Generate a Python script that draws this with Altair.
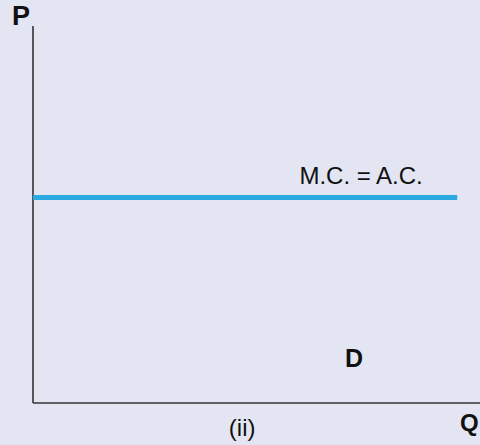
import altair as alt
import pandas as pd

# Axis frame (data units): Q runs 0..10 along the x-axis, P runs 0..10 up the y-axis
q_max = 10.0
p_max = 10.0

# Constant marginal cost = average cost line
mc_level = [5.45]
mc_q_end = [9.49]

# Labels: text, Q position, P position, weight, font size
label_text = ["P", "Q", "(ii)", "D", "M.C. = A.C."]
label_q = [-0.27, 9.76, 4.68, 7.18, 7.34]
label_p = [10.24, -0.56, -0.69, 1.17, 5.99]
label_bold = [True, True, False, True, False]
label_size = [27, 24, 24, 25, 24]

BG = "#e3e6f2"
AXIS = "#333333"
BLUE = "#29abe2"

xs = alt.Scale(domain=[0, q_max])
ys = alt.Scale(domain=[0, p_max])

axes_df = pd.DataFrame({
    "q": [0, 0], "p": [0, 0],
    "q2": [0, q_max + 0.1], "p2": [p_max, 0],
})
axes = alt.Chart(axes_df).mark_rule(color=AXIS, strokeWidth=1.6).encode(
    x=alt.X("q:Q", scale=xs, axis=None),
    y=alt.Y("p:Q", scale=ys, axis=None),
    x2="q2:Q",
    y2="p2:Q",
)

mc_df = pd.DataFrame({"q": [0.0], "q2": mc_q_end, "p": mc_level})
mc_line = alt.Chart(mc_df).mark_rule(color=BLUE, strokeWidth=5).encode(
    x=alt.X("q:Q", scale=xs, axis=None),
    x2="q2:Q",
    y=alt.Y("p:Q", scale=ys, axis=None),
)

lab_df = pd.DataFrame({
    "t": label_text, "q": label_q, "p": label_p,
    "b": label_bold, "s": label_size,
})
base = alt.Chart(lab_df).encode(
    x=alt.X("q:Q", scale=xs, axis=None),
    y=alt.Y("p:Q", scale=ys, axis=None),
    text="t:N",
    size=alt.Size("s:Q", scale=None, legend=None),
)
bold_labels = base.transform_filter("datum.b").mark_text(
    font="Liberation Sans", fontWeight="bold", color="#111111",
    align="center", baseline="middle",
)
plain_labels = base.transform_filter("!datum.b").mark_text(
    font="Liberation Sans", color="#111111",
    align="center", baseline="middle",
)

chart = (axes + mc_line + bold_labels + plain_labels).properties(
    width=447,
    height=377,
    background=BG,
    padding={"left": 33, "top": 26, "right": 0, "bottom": 42},
    autosize=alt.AutoSizeParams(type="none"),
).configure_view(stroke=None)

chart.save("out.html", embed_options={"renderer": "svg", "actions": False})
